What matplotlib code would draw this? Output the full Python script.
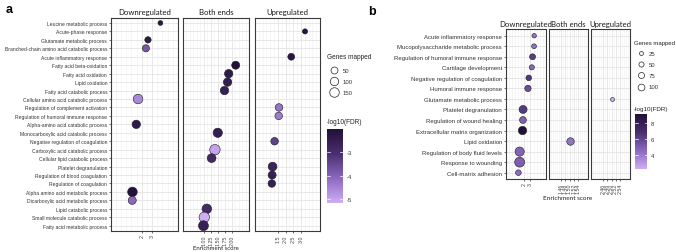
import numpy as np
import matplotlib
matplotlib.use('Agg')
import matplotlib.pyplot as plt
from matplotlib.colors import LinearSegmentedColormap, Normalize

# ---- panel a : GO terms (top to bottom) ----
terms_a = ['Leucine metabolic process', 'Acute-phase response', 'Glutamate metabolic process',
           'Branched-chain amino acid catabolic process', 'Acute inflammatory response',
           'Fatty acid beta-oxidation', 'Fatty acid oxidation', 'Lipid oxidation',
           'Fatty acid catabolic process', 'Cellular amino acid catabolic process',
           'Regulation of complement activation', 'Regulation of humoral immune response',
           'Alpha-amino acid catabolic process', 'Monocarboxylic acid catabolic process',
           'Negative regulation of coagulation', 'Carboxylic acid catabolic process',
           'Cellular lipid catabolic process', 'Platelet degranulation',
           'Regulation of blood coagulation', 'Regulation of coagulation',
           'Alpha amino acid metabolic process', 'Dicarboxylic acid metabolic process',
           'Lipid catabolic process', 'Small molecule catabolic process',
           'Fatty acid metabolic process']

down_a_terms = ['Leucine metabolic process', 'Glutamate metabolic process',
                'Branched-chain amino acid catabolic process', 'Cellular amino acid catabolic process',
                'Alpha-amino acid catabolic process', 'Alpha amino acid metabolic process',
                'Dicarboxylic acid metabolic process']
down_a_score = [3.80, 2.60, 2.40, 1.64, 1.47, 1.10, 1.08]
down_a_genes = [8, 35, 58, 153, 100, 153, 86]
down_a_fdr = [-2.3, -2.4, -3.8, -4.6, -2.4, -2.1, -4.1]

both_a_terms = ['Fatty acid beta-oxidation', 'Fatty acid oxidation', 'Lipid oxidation',
                'Fatty acid catabolic process', 'Monocarboxylic acid catabolic process',
                'Carboxylic acid catabolic process', 'Cellular lipid catabolic process',
                'Lipid catabolic process', 'Small molecule catabolic process',
                'Fatty acid metabolic process']
both_a_score = [2.14, 1.89, 1.85, 1.74, 1.50, 1.40, 1.28, 1.11, 1.02, 0.99]
both_a_genes = [86, 100, 100, 100, 136, 197, 115, 153, 197, 171]
both_a_fdr = [-2.05, -2.4, -2.5, -2.6, -2.5, -5.0, -2.9, -2.9, -5.15, -2.6]

up_a_terms = ['Acute-phase response', 'Acute inflammatory response',
              'Regulation of complement activation', 'Regulation of humoral immune response',
              'Negative regulation of coagulation', 'Platelet degranulation',
              'Regulation of blood coagulation', 'Regulation of coagulation']
up_a_score = [3.27, 2.37, 1.57, 1.55, 1.28, 1.15, 1.12, 1.10]
up_a_genes = [13, 48, 69, 69, 69, 115, 86, 69]
up_a_fdr = [-2.2, -2.3, -4.3, -4.4, -3.4, -2.7, -2.6, -2.6]

# ---- panel b ----
terms_b = ['Acute inflammatory response', 'Mucopolysaccharide metabolic process',
           'Regulation of humoral immune response', 'Cartilage development',
           'Negative regulation of coagulation', 'Humoral immune response',
           'Glutamate metabolic process', 'Platelet degranulation',
           'Regulation of wound healing', 'Extracellular matrix organization',
           'Lipid oxidation', 'Regulation of body fluid levels',
           'Response to wounding', 'Cell-matrix adhesion']

down_b_terms = ['Acute inflammatory response', 'Mucopolysaccharide metabolic process',
                'Regulation of humoral immune response', 'Cartilage development',
                'Negative regulation of coagulation', 'Humoral immune response',
                'Platelet degranulation', 'Regulation of wound healing',
                'Extracellular matrix organization', 'Regulation of body fluid levels',
                'Response to wounding', 'Cell-matrix adhesion']
down_b_score = [3.60, 3.58, 3.34, 3.22, 2.73, 2.60, 1.82, 1.80, 1.73, 1.27, 1.27, 1.07]
down_b_genes = [34, 42, 73, 50, 63, 84, 146, 100, 161, 200, 238, 63]
down_b_fdr = [4.2, 4.3, 6.3, 4.6, 6.5, 5.6, 6.4, 4.9, 9.2, 4.8, 5.0, 4.4]

both_b_terms = ['Lipid oxidation']
both_b_score = [1.50]
both_b_genes = [127]
both_b_fdr = [4.2]

up_b_terms = ['Glutamate metabolic process']
up_b_score = [2.50]
up_b_genes = [25]
up_b_fdr = [2.2]

legend_a_genes = [50, 100, 150]
legend_b_genes = [25, 50, 75, 100]

W, H = 676, 253
fig = plt.figure(figsize=(W / 100, H / 100), dpi=100)
cmap = LinearSegmentedColormap.from_list('pur', ['#CDAEF5', '#8C69C0', '#4A2F70', '#22103A'])

ARIAL = 'Liberation Sans'
STRIP = 'Lato'


def add_px(x0, y0, x1, y1):
    return fig.add_axes([x0 / W, 1 - y1 / H, (x1 - x0) / W, (y1 - y0) / H])


def diam(genes, k, c0):
    return k * np.sqrt(np.asarray(genes, float)) + c0


def facet(box, all_terms, terms, score, genes, fdr, norm, sz, ticks, fmt, title, first, lab_fs):
    ax = add_px(*box)
    y = [all_terms.index(t) for t in terms]
    d = diam(genes, *sz) * 0.72
    ax.scatter(score, y, s=d ** 2, c=fdr, cmap=cmap, norm=norm,
               edgecolors='#1a1a1a', linewidths=0.4, zorder=3)
    n = len(all_terms)
    ax.set_ylim(n - 0.4, -0.6)
    lo, hi = min(score), max(score)
    pad = 0.05 * (hi - lo) if hi > lo else 0.0495
    ax.set_xlim(lo - pad, hi + pad)
    step = ticks[1] - ticks[0]
    ax.set_xticks(ticks)
    ax.set_xticklabels([fmt % t for t in ticks], rotation=90, fontsize=3.8,
                       family=ARIAL, color='#444444')
    ax.set_xticks(np.arange(ticks[0] - 3 * step, ticks[-1] + 3 * step, step / 2), minor=True)
    ax.tick_params(axis='x', which='major', length=1.5, width=0.5, color='#333333', pad=1)
    ax.tick_params(axis='x', which='minor', length=0)
    ax.set_yticks(range(n))
    if first:
        ax.set_yticklabels(all_terms, fontsize=lab_fs, family=ARIAL, color='#333333')
        ax.tick_params(axis='y', length=1.5, width=0.5, color='#333333', pad=1)
    else:
        ax.set_yticklabels([])
        ax.tick_params(axis='y', length=0)
    ax.grid(which='major', color='#e4e4e4', lw=0.6)
    ax.grid(which='minor', axis='x', color='#f0f0f0', lw=0.4)
    ax.set_axisbelow(True)
    for sp in ax.spines.values():
        sp.set_color('#3a3a3a')
        sp.set_linewidth(0.8)
    ax.set_title(title, fontsize=5.6, family=STRIP, pad=2.5, color='#1a1a1a')
    return ax


def colorbar(box, norm, ticks):
    cax = add_px(*box)
    grad = np.linspace(norm.vmin, norm.vmax, 200)[:, None]
    cax.imshow(grad, aspect='auto', cmap=cmap, norm=norm, origin='lower',
               extent=[0, 1, norm.vmin, norm.vmax])
    cax.set_xlim(0, 1)
    cax.set_ylim(norm.vmin, norm.vmax)
    cax.set_xticks([])
    cax.yaxis.tick_right()
    cax.set_yticks(ticks)
    cax.set_yticklabels([str(t) for t in ticks], fontsize=4.2, family=ARIAL, color='#333333')
    cax.tick_params(axis='y', length=0, pad=3)
    for t in ticks:
        cax.plot([0, 0.2], [t, t], color='white', lw=0.5)
        cax.plot([0.8, 1], [t, t], color='white', lw=0.5)
    for sp in cax.spines.values():
        sp.set_visible(False)


# ---------------- panel a ----------------
fdr_all_a = down_a_fdr + both_a_fdr + up_a_fdr
norm_a = Normalize(min(fdr_all_a), max(fdr_all_a))
sz_a = (0.5, 3.4)
top_a, bot_a = 18.9, 231.8
facet((110.7, top_a, 178, bot_a), terms_a, down_a_terms, down_a_score, down_a_genes, down_a_fdr,
      norm_a, sz_a, [2, 3], '%d', 'Downregulated', True, 3.6)
facet((182.7, top_a, 249.3, bot_a), terms_a, both_a_terms, both_a_score, both_a_genes, both_a_fdr,
      norm_a, sz_a, [1.0, 1.25, 1.5, 1.75, 2.0], '%.2f', 'Both ends', False, 3.6)
facet((255, top_a, 320, bot_a), terms_a, up_a_terms, up_a_score, up_a_genes, up_a_fdr,
      norm_a, sz_a, [1.5, 2.0, 2.5, 3.0], '%.1f', 'Upregulated', False, 3.6)
colorbar((327.3, 130, 342.7, 204), norm_a, [-3, -4, -5])

# ---------------- panel b ----------------
fdr_all_b = down_b_fdr + both_b_fdr + up_b_fdr
norm_b = Normalize(min(fdr_all_b), max(fdr_all_b))
sz_b = (0.57, 1.1)
top_b, bot_b = 30.4, 180
facet((505.5, top_b, 546, bot_b), terms_b, down_b_terms, down_b_score, down_b_genes, down_b_fdr,
      norm_b, sz_b, [2, 3], '%d', 'Downregulated', True, 4.3)
facet((549, top_b, 588, bot_b), terms_b, both_b_terms, both_b_score, both_b_genes, both_b_fdr,
      norm_b, sz_b, [1.46, 1.48, 1.50, 1.52, 1.54], '%.2f', 'Both ends', False, 4.3)
facet((591, top_b, 630, bot_b), terms_b, up_b_terms, up_b_score, up_b_genes, up_b_fdr,
      norm_b, sz_b, [2.46, 2.48, 2.50, 2.52, 2.54], '%.2f', 'Upregulated', False, 4.3)
colorbar((635.3, 115, 647, 170), norm_b, [8, 6, 4])

# ---------------- overlay texts / size legends ----------------
ov = fig.add_axes([0, 0, 1, 1])
ov.set_xlim(0, W)
ov.set_ylim(H, 0)
ov.axis('off')

ov.text(6, 10, 'a', fontsize=9, fontweight='bold', family=ARIAL, va='center')
ov.text(368, 12, 'b', fontsize=9, fontweight='bold', family=ARIAL, va='center')
ov.text(216, 249, 'Enrichment score', fontsize=4.3, family=STRIP, ha='center', va='center', color='#222222')
ov.text(568, 199, 'Enrichment score', fontsize=4.6, family=STRIP, ha='center', va='center', color='#222222')

ov.text(327, 57, 'Genes mapped', fontsize=4.7, family=ARIAL, va='center', color='#222222')
for g, yy in zip(legend_a_genes, [71, 82, 93]):
    ov.scatter([334], [yy], s=(diam([g], *sz_a) * 0.72) ** 2, facecolors='white',
               edgecolors='#222222', linewidths=0.5)
    ov.text(343, yy, str(g), fontsize=4.3, family=ARIAL, va='center', color='#333333')
ov.text(327, 123, '-log10(FDR)', fontsize=4.7, family=ARIAL, va='center', color='#222222')

ov.text(634, 43.5, 'Genes mapped', fontsize=4.3, family=ARIAL, va='center', color='#222222')
for g, yy in zip(legend_b_genes, [54.3, 65.3, 76.3, 87.5]):
    ov.scatter([641], [yy], s=(diam([g], *sz_b) * 0.72) ** 2, facecolors='white',
               edgecolors='#222222', linewidths=0.5)
    ov.text(649, yy, str(g), fontsize=4.3, family=ARIAL, va='center', color='#333333')
ov.text(634, 110, '-log10(FDR)', fontsize=4.5, family=ARIAL, va='center', color='#222222')

fig.savefig('out.png', dpi=100)
